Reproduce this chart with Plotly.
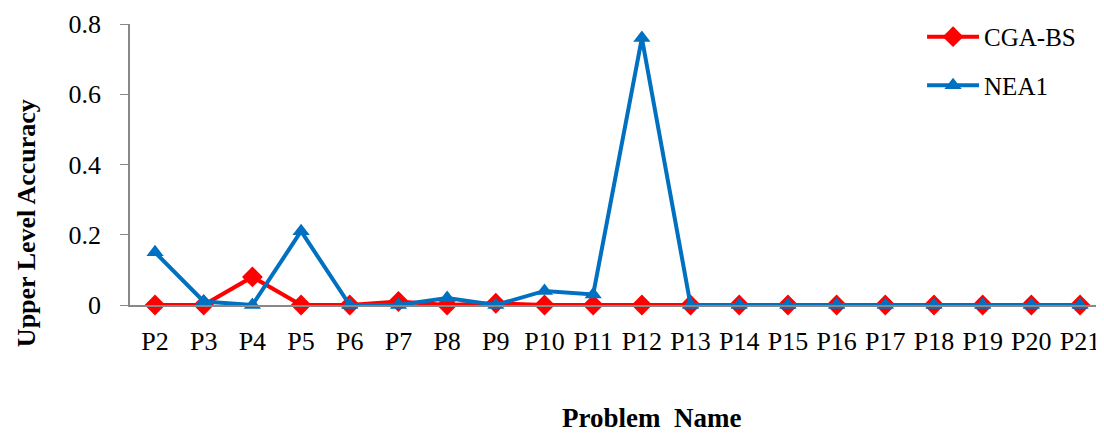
import plotly.graph_objects as go

categories = ["P2", "P3", "P4", "P5", "P6", "P7", "P8", "P9", "P10", "P11",
              "P12", "P13", "P14", "P15", "P16", "P17", "P18", "P19", "P20", "P21"]
cga_bs = [0, 0, 0.08, 0, 0, 0.01, 0, 0.005, 0, 0,
          0, 0, 0, 0, 0, 0, 0, 0, 0, 0]
nea1 = [0.15, 0.01, 0, 0.21, 0, 0, 0.02, 0, 0.04, 0.03,
        0.76, 0, 0, 0, 0, 0, 0, 0, 0, 0]
y_ticks = [0, 0.2, 0.4, 0.6, 0.8]
y_tick_text = ["0", "0.2", "0.4", "0.6", "0.8"]

FONT = "Liberation Serif"
fig = go.Figure()
fig.add_trace(go.Scatter(
    x=categories, y=cga_bs, name="CGA-BS", mode="lines+markers",
    legendgroup="a",
    line=dict(color="#FF0000", width=4),
    marker=dict(symbol="diamond", size=16, color="#FF0000"),
    cliponaxis=False))
fig.add_trace(go.Scatter(
    x=categories, y=nea1, name="NEA1", mode="lines+markers",
    legendgroup="b",
    line=dict(color="#0070C0", width=4),
    marker=dict(symbol="triangle-up", size=15, color="#0070C0"),
    cliponaxis=False))

# the page body adds an 8px offset, so the figure is 8px smaller
fig.update_layout(
    width=1096, height=425,
    margin=dict(l=122, r=4, t=16, b=128, autoexpand=False),
    plot_bgcolor="white", paper_bgcolor="white",
    font=dict(family=FONT, size=26, color="black"),
    showlegend=True,
    legend=dict(xref="container", yref="container", x=0.834, y=0.986,
                xanchor="left", yanchor="top", traceorder="grouped",
                font=dict(family=FONT, size=25), tracegroupgap=13,
                itemwidth=52, bgcolor="rgba(0,0,0,0)"),
    xaxis=dict(type="category", range=[-0.514, 19.41], showgrid=False,
               showline=True, linecolor="#888888", linewidth=1.5,
               ticks="", ticklabelstandoff=12, zeroline=False,
               automargin=False,
               tickfont=dict(family=FONT, size=26)),
    yaxis=dict(range=[0, 0.8], tickvals=y_ticks, ticktext=y_tick_text,
               showgrid=False, showline=True, linecolor="#888888", linewidth=1.5,
               ticks="outside", ticklen=8, tickcolor="#888888",
               ticklabelstandoff=14, zeroline=False, automargin=False,
               tickfont=dict(family=FONT, size=26)),
    annotations=[
        dict(text="<b>Upper Level Accuracy</b>", textangle=-90,
             xref="paper", yref="paper", x=-0.106, y=0.292,
             xanchor="center", yanchor="middle", showarrow=False,
             font=dict(family=FONT, size=26)),
        dict(text="<b>Problem  Name</b>", xref="paper", yref="paper",
             x=0.538, y=-0.402, xanchor="center", yanchor="middle",
             showarrow=False, font=dict(family=FONT, size=27)),
    ],
)
fig.write_html("out.html")
